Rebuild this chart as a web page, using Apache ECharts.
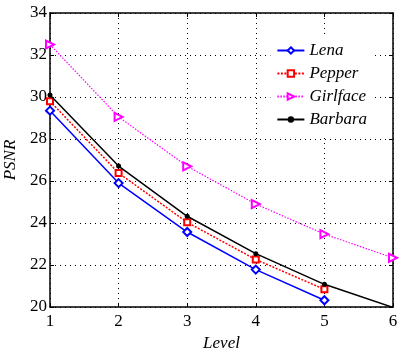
<!DOCTYPE html>
<html>
<head>
<meta charset="utf-8">
<script type="text/javascript" src="https://cdn.jsdelivr.net/npm/echarts/dist/echarts.min.js"></script>
<style>
html, body { margin: 0; padding: 0; background: #fff; }
</style>
</head>
<body>
<div id="container" style="width:415px; height:354px;"></div>

<script type="text/javascript">
var levels = [1, 2, 3, 4, 5, 6];
var lena = [29.35, 25.9, 23.57, 21.78, 20.32];
var pepper = [29.8, 26.38, 24.03, 22.26, 20.84];
var girlface = [32.5, 29.05, 26.7, 24.9, 23.47, 22.34];
var barbara = [30.1, 26.71, 24.32, 22.54, 21.08, 19.98];

function pairs(vals) {
	var out = [];
	for (var i = 0; i < vals.length; i++) {
		out.push([levels[i], vals[i]]);
	}
	return out;
}

var serif = '"Liberation Serif", "DejaVu Serif", serif';
var dom = document.getElementById("container");
var myChart = echarts.init(dom);

var option = {
	animation: false,
	backgroundColor: '#fff',
	grid: {
		left: 50,
		right: 22,
		top: 13,
		bottom: 47,
		outerBoundsMode: 'none'
	},
	legend: {
		right: 44,
		top: 38,
		orient: 'vertical',
		itemWidth: 27,
		itemHeight: 8,
		itemGap: 6,
		padding: [4, 4, 8, 6],
		backgroundColor: '#fff',
		textStyle: {
			fontFamily: serif,
			fontStyle: 'italic',
			fontSize: 17,
			color: '#000'
		},
		data: ['Lena', 'Pepper', 'Girlface', 'Barbara']
	},
	xAxis: [{
		type: 'value',
		min: 1,
		max: 6,
		interval: 1,
		name: 'Level',
		nameLocation: 'middle',
		nameGap: 21,
		nameTextStyle: { fontFamily: serif, fontStyle: 'italic', fontSize: 17, color: '#000' },
		axisLine: { lineStyle: { color: '#000', width: 1.5 } },
		axisTick: { inside: true, length: 4, lineStyle: { color: '#000' } },
		axisLabel: { fontFamily: serif, fontSize: 17, color: '#000', margin: 6 },
		splitLine: { show: true, lineStyle: { color: '#000', type: [1, 4], width: 1 } }
	}, {
		type: 'value',
		position: 'top',
		min: 1,
		max: 6,
		interval: 1,
		axisLine: { show: true, lineStyle: { color: '#000', width: 1.5 } },
		axisTick: { inside: true, length: 4, lineStyle: { color: '#000' } },
		axisLabel: { show: false },
		splitLine: { show: false }
	}],
	yAxis: [{
		type: 'value',
		min: 20,
		max: 34,
		interval: 2,
		name: 'PSNR',
		nameLocation: 'middle',
		nameGap: 27,
		nameTextStyle: { fontFamily: serif, fontStyle: 'italic', fontSize: 17, color: '#000' },
		axisLine: { show: true, lineStyle: { color: '#000', width: 1.5 } },
		axisTick: { inside: true, length: 4, lineStyle: { color: '#000' } },
		axisLabel: { fontFamily: serif, fontSize: 17, color: '#000', margin: 3 },
		splitLine: { show: true, lineStyle: { color: '#000', type: [1, 4], width: 1 } }
	}, {
		type: 'value',
		position: 'right',
		min: 20,
		max: 34,
		interval: 2,
		axisLine: { show: true, lineStyle: { color: '#000', width: 1.5 } },
		axisTick: { inside: true, length: 4, lineStyle: { color: '#000' } },
		axisLabel: { show: false },
		splitLine: { show: false }
	}],
	series: [{
		name: 'Lena',
		type: 'line',
		data: pairs(lena),
		symbol: 'emptyDiamond',
		symbolSize: 8,
		color: '#0000ff',
		lineStyle: { width: 1.5, type: 'solid' },
		itemStyle: { borderWidth: 1.5 },
		z: 4
	}, {
		name: 'Pepper',
		type: 'line',
		data: pairs(pepper),
		symbol: 'emptyRect',
		symbolSize: 6,
		color: '#ff0000',
		lineStyle: { width: 1.5, type: [2, 1.5] },
		itemStyle: { borderWidth: 1.5 },
		z: 3
	}, {
		name: 'Girlface',
		type: 'line',
		data: pairs(girlface),
		symbol: 'emptyTriangle',
		symbolRotate: -90,
		symbolSize: 8,
		color: '#ff00ff',
		lineStyle: { width: 1.2, type: [1.5, 1.5] },
		itemStyle: { borderWidth: 1.3 },
		z: 2
	}, {
		name: 'Barbara',
		type: 'line',
		data: pairs(barbara),
		symbol: 'circle',
		symbolSize: 5,
		color: '#000000',
		lineStyle: { width: 1.5, type: 'solid' },
		z: 5
	}]
};

myChart.setOption(option);
</script>
</body>
</html>
